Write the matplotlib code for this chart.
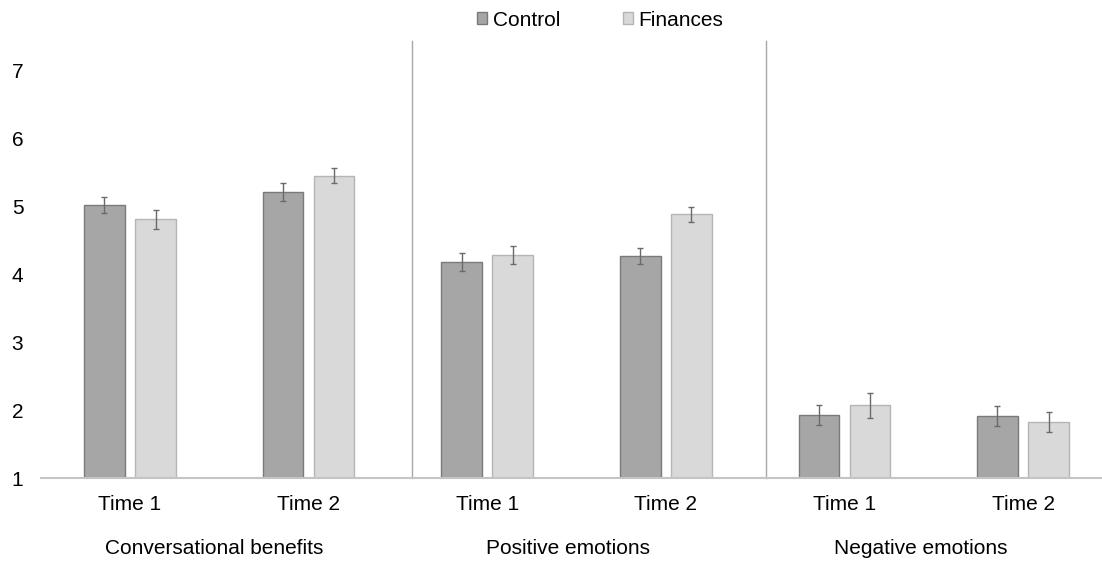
import matplotlib
matplotlib.use("Agg")
import matplotlib.pyplot as plt
import matplotlib.transforms as mtransforms
from matplotlib.patches import Patch
import numpy as np

plt.rcParams['font.family'] = ['Liberation Sans', 'DejaVu Sans']

groups = ["Conversational benefits", "Positive emotions", "Negative emotions"]
times = ["Time 1", "Time 2"]
control = [5.02, 5.21, 4.18, 4.27, 1.93, 1.91]
control_err = [0.12, 0.13, 0.13, 0.115, 0.15, 0.15]
finances = [4.81, 5.45, 4.28, 4.88, 2.07, 1.82]
finances_err = [0.14, 0.115, 0.13, 0.11, 0.18, 0.145]
yticks = [1, 2, 3, 4, 5, 6, 7]

fig = plt.figure(figsize=(11.02, 5.62), dpi=100)
ax = fig.add_axes([40.7/1102, (562-478)/562, 1 - 40.7/1102, (478-41)/562])

x = np.arange(len(control))
w = 0.227
off = 0.143
ax.bar(x - off, [v - 1 for v in control], w, bottom=1, color='#a6a6a6',
       edgecolor='#7a7a7a', linewidth=1.0, zorder=2)
ax.bar(x + off, [v - 1 for v in finances], w, bottom=1, color='#d9d9d9',
       edgecolor='#b5b5b5', linewidth=1.0, zorder=2)
ax.errorbar(x - off, control, yerr=control_err, fmt='none', ecolor='#6a6a6a',
            elinewidth=1.0, capsize=2.5, capthick=1.0, zorder=3)
ax.errorbar(x + off, finances, yerr=finances_err, fmt='none', ecolor='#6a6a6a',
            elinewidth=1.0, capsize=2.5, capthick=1.0, zorder=3)

ax.set_xlim(-0.5, (1102 - 130) / 178.6)
ax.set_ylim(1, 7.43)
ax.set_yticks(yticks)
ax.set_yticklabels([str(t) for t in yticks], fontsize=15)
ax.set_xticks(x)
ax.set_xticklabels(times * 3, fontsize=15)
ax.tick_params(axis='both', length=0)
ax.tick_params(axis='y', pad=12.5)
ax.tick_params(axis='x', pad=12)

for s in ['top', 'right', 'left']:
    ax.spines[s].set_visible(False)
ax.spines['bottom'].set_color('#c4c4c4')
ax.spines['bottom'].set_linewidth(1.5)

for sx in [1.58, 3.56]:
    ax.plot([sx, sx], [1, 7.43], color='#a8a8a8', linewidth=1.0, clip_on=False, zorder=1)

trans = mtransforms.blended_transform_factory(ax.transData, fig.transFigure)
group_pos = [0.474, 2.452, 4.429]
for gx, g in zip(group_pos, groups):
    ax.text(gx, (562 - 549) / 562, g, transform=trans, ha='center', va='center', fontsize=15)

handles = [Patch(facecolor='#a6a6a6', edgecolor='#7a7a7a', label='Control'),
           Patch(facecolor='#d9d9d9', edgecolor='#b5b5b5', label='Finances')]
fig.legend(handles=handles, loc='center', bbox_to_anchor=(600/1102, (562-20)/562), ncol=2,
           frameon=False, fontsize=15, handlelength=0.5, handleheight=0.5,
           handletextpad=0.25, columnspacing=3.0)

fig.savefig("out.png", dpi=100)
